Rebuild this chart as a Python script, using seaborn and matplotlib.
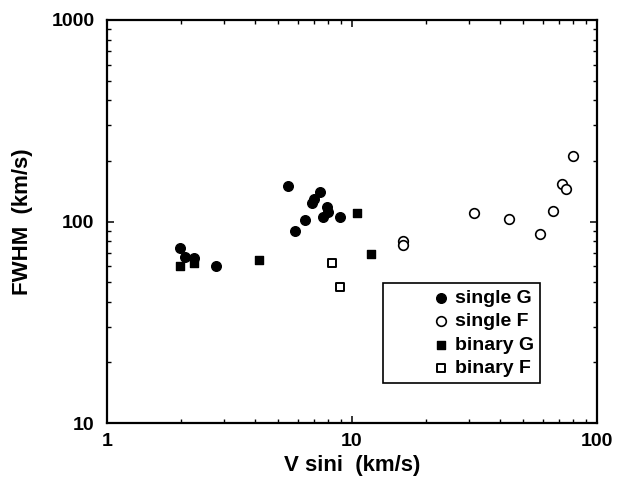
import numpy as np
import pandas as pd
import matplotlib
matplotlib.use("Agg")
import matplotlib.pyplot as plt
import matplotlib.ticker as mticker
from matplotlib.collections import PathCollection
from matplotlib.legend_handler import HandlerPathCollection
import seaborn as sns

# ---- data ----
single_g_v = [1.99, 2.08, 2.26, 2.78, 5.50, 7.40, 7.02, 6.85, 7.88, 8.00, 7.64, 8.93, 6.43, 5.85]
single_g_f = [74.0, 66.8, 65.6, 60.1, 150.0, 140.6, 129.0, 123.0, 118.0, 112.0, 105.6, 105.6, 101.6, 89.8]

single_f_v = [16.2, 16.2, 31.4, 43.7, 58.3, 65.9, 71.8, 74.7, 79.8]
single_f_f = [80.0, 76.4, 110.0, 102.6, 86.7, 113.0, 153.0, 145.5, 211.0]

binary_g_v = [1.99, 2.26, 4.19, 10.5, 11.96]
binary_g_f = [60.1, 62.5, 64.4, 110.0, 69.2]

binary_f_v = [8.28, 8.96]
binary_f_f = [62.1, 47.4]

x_ticks = [1, 10, 100]
x_tick_labels = ["1", "10", "100"]
y_ticks = [10, 100, 1000]
y_tick_labels = ["10", "100", "1000"]

x_label = "V sini  (km/s)"
y_label = "FWHM  (km/s)"

# ---- style ----
sns.set_style("ticks")
plt.rcParams["font.family"] = ["Liberation Sans", "DejaVu Sans"]
plt.rcParams["font.weight"] = "bold"
for key in ["text.color", "axes.labelcolor", "xtick.color", "ytick.color",
            "axes.edgecolor"]:
    plt.rcParams[key] = "black"

fig = plt.figure(figsize=(6.18, 4.79), dpi=100)
ax = fig.add_axes([107 / 618, 56 / 479, 490 / 618, 403 / 479])

groups = [
    ("single G", single_g_v, single_g_f, "o", "black", 48, 1.0),
    ("single F", single_f_v, single_f_f, "o", "white", 48, 1.2),
    ("binary G", binary_g_v, binary_g_f, "s", "black", 32, 1.0),
    ("binary F", binary_f_v, binary_f_f, "s", "white", 26, 1.4),
]
for name, vx, fy, mk, fc, sz, lw in groups:
    df = pd.DataFrame({"v": vx, "f": fy})
    sns.scatterplot(data=df, x="v", y="f", marker=mk, s=sz, facecolor=fc,
                    edgecolor="black", linewidth=lw, label=name, legend=False,
                    ax=ax, zorder=3)

ax.set_xscale("log")
ax.set_yscale("log")
ax.set_xlim(1, 100)
ax.set_ylim(10, 1000)

ax.set_xticks(x_ticks)
ax.set_xticklabels(x_tick_labels)
ax.set_yticks(y_ticks)
ax.set_yticklabels(y_tick_labels)
ax.xaxis.set_minor_locator(mticker.LogLocator(base=10, subs=np.arange(2, 10)))
ax.yaxis.set_minor_locator(mticker.LogLocator(base=10, subs=np.arange(2, 10)))
ax.xaxis.set_minor_formatter(mticker.NullFormatter())
ax.yaxis.set_minor_formatter(mticker.NullFormatter())

ax.tick_params(which="both", direction="in", top=True, right=True,
               colors="black", labelcolor="black")
ax.tick_params(which="major", length=5, width=1.1, labelsize=14)
ax.tick_params(which="minor", length=3, width=1.0)
ax.tick_params(axis="x", which="major", pad=7)
ax.tick_params(axis="y", which="major", pad=9)
for lab in ax.get_xticklabels() + ax.get_yticklabels():
    lab.set_fontweight("bold")

for sp in ax.spines.values():
    sp.set_linewidth(1.6)
    sp.set_color("black")

ax.set_xlabel(x_label, fontsize=16, fontweight="bold", labelpad=4, color="black")
ax.set_ylabel(y_label, fontsize=16, fontweight="bold", labelpad=13, color="black")


class RightMarkerHandler(HandlerPathCollection):
    def get_xdata(self, legend, xdescent, ydescent, width, height, fontsize):
        xm = -xdescent + width - 0.3 * fontsize
        return np.array([-xdescent, -xdescent + width]), np.array([xm])


handles, labels = ax.get_legend_handles_labels()
leg = ax.legend(handles, labels, loc="lower left", bbox_to_anchor=(0.563, 0.099),
                handler_map={PathCollection: RightMarkerHandler()},
                prop={"family": "Liberation Sans", "weight": "bold", "size": 14},
                frameon=True, fancybox=False, framealpha=1, edgecolor="black",
                borderpad=0.3, labelspacing=0.3, handlelength=3.0,
                handletextpad=0.4, borderaxespad=0, markerscale=1.0)
leg.get_frame().set_linewidth(1.2)
for t in leg.get_texts():
    t.set_color("black")

fig.savefig("out.png", dpi=100)
